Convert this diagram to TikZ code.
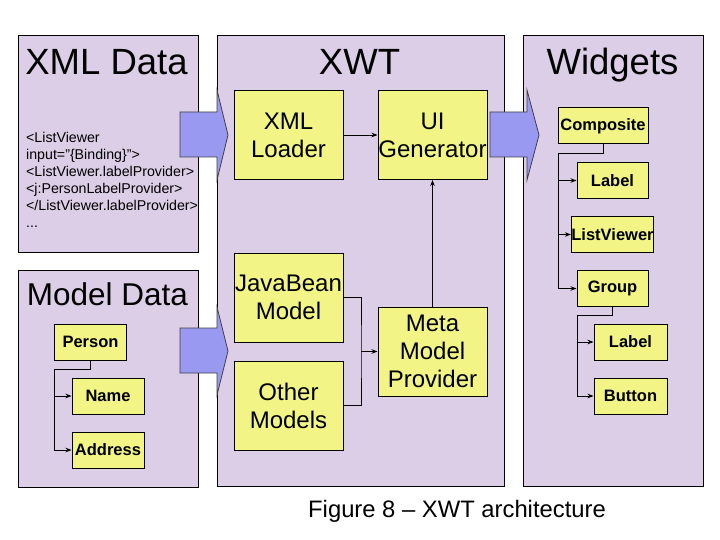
\documentclass[tikz,border=0pt]{standalone}
\usepackage{fontspec}
\setmainfont{Liberation Sans}
\usetikzlibrary{arrows.meta}
\definecolor{panelc}{RGB}{220,206,230}
\definecolor{boxc}{RGB}{242,245,134}
\definecolor{arrc}{RGB}{153,153,242}
\begin{document}
\begin{tikzpicture}[x=1pt,y=-1pt,
  panel/.style={draw=black,fill=panelc,line width=1pt,inner sep=0pt},
  bigbox/.style={draw=black,fill=boxc,line width=1pt,minimum width=109pt,minimum height=89pt,inner sep=0pt,align=center,font=\fontsize{24}{28}\selectfont},
  smallbox/.style={draw=black,fill=boxc,line width=1pt,minimum width=72pt,minimum height=36pt,inner sep=0pt,font=\fontsize{16.5}{19}\selectfont\bfseries},
  titletext/.style={anchor=base,inner sep=0pt,font=\fontsize{36.5}{42}\selectfont},
  codetext/.style={anchor=base west,inner sep=0pt,font=\fontsize{14.2}{17}\selectfont},
  conn/.style={draw=black,line width=0.8pt},
  arr/.style={conn,-{Stealth[length=6pt,width=4.5pt]}},
  blockarrow/.style={draw=black!75,fill=arrc,line width=0.8pt,line join=miter}
]
\useasboundingbox (0,0) rectangle (720,540);
\fill[white] (0,0) rectangle (720,540);

% panels
\node[panel,minimum width=180pt,minimum height=216pt] (xmlp) at (108,144) {};
\node[panel,minimum width=180pt,minimum height=217pt] (modp) at (108,378.5) {};
\node[panel,minimum width=287pt,minimum height=450pt] (xwtp) at (360.5,261) {};
\node[panel,minimum width=180pt,minimum height=450pt] (widp) at (613,261) {};

% titles
\node[titletext] (t1) at (106.5,75) {XML Data};
\node[titletext,font=\fontsize{31.5}{36}\selectfont] (t2) at (107.5,305) {Model Data};
\node[titletext] (t3) at (359.5,75) {XWT};
\node[titletext] (t4) at (612.5,75) {Widgets};

% code
\node[codetext] (c1) at (26,143) {<ListViewer};
\node[codetext] (c2) at (26,160) {input="\{Binding\}">};
\node[codetext] (c3) at (26,177) {<ListViewer.labelProvider>};
\node[codetext] (c4) at (26,194) {<j:PersonLabelProvider>};
\node[codetext] (c5) at (26,211) {</ListViewer.labelProvider>};
\node[codetext] (c6) at (26,227) {...};

% block arrows
\draw[blockarrow] (180,112) -- (217,112) -- (217,90) -- (228,135) -- (217,180) -- (217,157) -- (180,157) -- cycle;
\draw[blockarrow] (180,328) -- (217,328) -- (217,307) -- (228,351) -- (217,395) -- (217,373) -- (180,373) -- cycle;
\draw[blockarrow] (490,112) -- (527,112) -- (527,90) -- (539,135) -- (527,180) -- (527,157) -- (490,157) -- cycle;

% XWT boxes
\node[bigbox] (xl) at (288.5,135) {XML\\Loader};
\node[bigbox] (ug) at (432.5,135) {UI\\Generator};
\node[bigbox] (jb) at (288.5,297.5) {JavaBean\\Model};
\node[bigbox] (om) at (288.5,405.5) {Other\\Models};
\node[bigbox] (mm) at (432.5,351.5) {Meta\\Model\\Provider};

\draw[arr] (xl.east) -- (ug.west);
\coordinate (mj) at (361,351.5);
\draw[conn] (jb.east) -| (mj) |- (om.east);
\draw[arr] (mj) -- (mm.west);
\draw[arr] (mm.north) -- (ug.south);

% Model data tree
\node[smallbox] (person) at (90.5,342) {Person};
\node[smallbox] (name) at (108,396) {Name};
\node[smallbox] (addr) at (108,450) {Address};
\coordinate (pbus) at (54,369);
\draw[arr] (person.south) |- (pbus) |- (addr.west);
\draw[arr] (pbus |- name.west) -- (name.west);

% Widgets tree
\node[smallbox,minimum width=90pt] (comp) at (603,126) {Composite};
\node[smallbox,minimum width=71pt] (lab1) at (612.5,180.5) {Label};
\node[smallbox,minimum width=71pt] (lv) at (612.5,234.5) {ListViewer};
\node[smallbox,minimum width=71pt] (grp) at (612.5,288.5) {Group};
\node[smallbox,minimum width=73pt] (lab2) at (630.5,342) {Label};
\node[smallbox,minimum width=73pt] (btn) at (630.5,396) {Button};
\coordinate (cbus) at (558,153);
\draw[arr] (comp.south) |- (cbus) |- (grp.west);
\draw[arr] (cbus |- lab1.west) -- (lab1.west);
\draw[arr] (cbus |- lv.west) -- (lv.west);
\coordinate (gbus) at (577,315);
\draw[arr] (grp.south) |- (gbus) |- (btn.west);
\draw[arr] (gbus |- lab2.west) -- (lab2.west);

% caption
\node[anchor=base,inner sep=0pt,font=\fontsize{23.8}{28}\selectfont] (cap) at (457,517) {Figure 8 – XWT architecture};
\end{tikzpicture}
\end{document}
